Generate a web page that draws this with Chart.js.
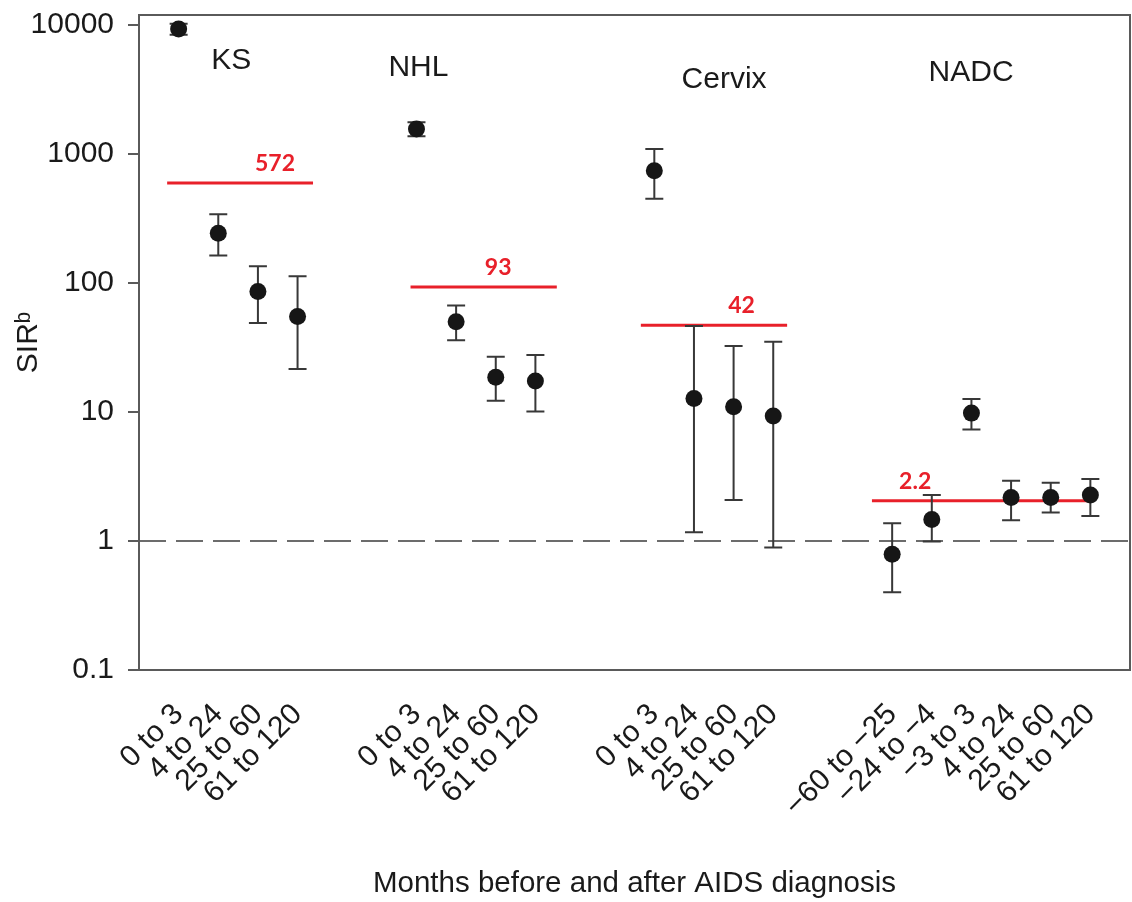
<!DOCTYPE html>
<html>
<head>
<meta charset="utf-8">
<script src="https://cdn.jsdelivr.net/npm/chart.js@4.4.1/dist/chart.umd.min.js"></script>
<style>
html,body{margin:0;padding:0;background:#ffffff;}
#wrap{position:relative;width:1132px;height:902px;}
</style>
</head>
<body>
<div id="wrap"><canvas id="c"></canvas></div>
<script>
// ---------------- data ----------------
const groupNames = ['KS', 'NHL', 'Cervix', 'NADC'];

const ksPeriods = ['0 to 3', '4 to 24', '25 to 60', '61 to 120'];
const ksSIR  = [9300, 243, 86, 55];
const ksLow  = [8400, 163, 49, 21.5];
const ksHigh = [10200, 341, 135, 113];

const nhlPeriods = ['0 to 3', '4 to 24', '25 to 60', '61 to 120'];
const nhlSIR  = [1560, 50, 18.6, 17.4];
const nhlLow  = [1370, 36, 12.2, 10.1];
const nhlHigh = [1760, 67, 26.8, 27.7];

const cervixPeriods = ['0 to 3', '4 to 24', '25 to 60', '61 to 120'];
const cervixSIR  = [740, 12.7, 11.0, 9.3];
const cervixLow  = [450, 1.17, 2.08, 0.89];
const cervixHigh = [1095, 46.5, 32.5, 35];

const nadcPeriods = ['\u221260 to \u221225', '\u221224 to \u22124', '\u22123 to 3', '4 to 24', '25 to 60', '61 to 120'];
const nadcSIR  = [0.79, 1.47, 9.8, 2.17, 2.17, 2.27];
const nadcLow  = [0.40, 0.99, 7.3, 1.45, 1.66, 1.56];
const nadcHigh = [1.37, 2.27, 12.6, 2.93, 2.83, 3.02];

// pooled SIR per group (red lines) and their printed values
const pooledLevel = [595, 93, 47, 2.05];
const pooledText  = ['572', '93', '42', '2.2'];
// span of each red line, in category units relative to the group's first period
const pooledSpanFrom = [-0.29, -0.15, -0.34, -0.51];
const pooledSpanTo   = [3.39, 3.54, 3.35, 4.99];

const yTickValues = [0.1, 1, 10, 100, 1000, 10000];
const referenceSIR = 1;

const xTitle = 'Months before and after AIDS diagnosis';
const yTitle = 'SIR\u1D47';

// ---------------- build structures ----------------
const GAP = 2;
const groups = [
  {name: groupNames[0], periods: ksPeriods, sir: ksSIR, lo: ksLow, hi: ksHigh},
  {name: groupNames[1], periods: nhlPeriods, sir: nhlSIR, lo: nhlLow, hi: nhlHigh},
  {name: groupNames[2], periods: cervixPeriods, sir: cervixSIR, lo: cervixLow, hi: cervixHigh},
  {name: groupNames[3], periods: nadcPeriods, sir: nadcSIR, lo: nadcLow, hi: nadcHigh}
];
let slot = 0;
groups.forEach(g => { g.start = slot; slot += g.periods.length + GAP; });
const lastSlot = slot - GAP - 1;

const pointData = [];
const tickSlots = [];
const tickText = {};
groups.forEach(g => {
  g.periods.forEach((p, i) => {
    const s = g.start + i;
    pointData.push({x: s, y: g.sir[i], lo: g.lo[i], hi: g.hi[i]});
    tickSlots.push(s);
    tickText[s] = p;
  });
});

// annotation placement (layout only)
const groupLabelPlace = [
  {dx: 1.33, y: 5300},
  {dx: 0.05, y: 4650},
  {dx: 1.76, y: 3750},
  {dx: 1.99, y: 4300}
];
const pooledLabelDx = [2.43, 2.06, 2.20, 0.58];

const FONT = "'Liberation Sans', Arial, Helvetica, sans-serif";
const TEXT = '#1a1a1a';
const RED = '#e8202a';
const AXIS = '#5a5a5a';

const redDatasets = groups.map((g, k) => ({
  type: 'line',
  label: 'pooled ' + g.name,
  data: [
    {x: g.start + pooledSpanFrom[k], y: pooledLevel[k]},
    {x: g.start + pooledSpanTo[k], y: pooledLevel[k]}
  ],
  borderColor: RED,
  borderWidth: 3,
  pointRadius: 0,
  fill: false,
  order: 1
}));

const X_MIN = -1, X_MAX = lastSlot + 1;

const refDataset = {
  type: 'line',
  label: 'reference',
  data: [{x: X_MIN, y: referenceSIR}, {x: X_MAX, y: referenceSIR}],
  borderColor: '#3c3c3c',
  borderWidth: 1.6,
  borderDash: [27, 10],
  pointRadius: 0,
  fill: false,
  order: 3
};

const pointDataset = {
  type: 'scatter',
  label: 'SIR',
  data: pointData,
  pointRadius: 8.5,
  pointHoverRadius: 8.5,
  pointBackgroundColor: '#161616',
  pointBorderColor: '#161616',
  pointBorderWidth: 0,
  order: 0
};

const errorBarPlugin = {
  id: 'errorBars',
  beforeDatasetDraw(chart, args) {
    if (chart.data.datasets[args.index] !== pointDataset) return;
    const {ctx, scales: {x, y}} = chart;
    ctx.save();
    ctx.strokeStyle = '#383838';
    ctx.lineWidth = 2;
    const cap = 9;
    pointData.forEach(p => {
      const px = x.getPixelForValue(p.x);
      const yl = y.getPixelForValue(p.lo);
      const yh = y.getPixelForValue(p.hi);
      ctx.beginPath();
      ctx.moveTo(px, yl); ctx.lineTo(px, yh);
      ctx.moveTo(px - cap, yl); ctx.lineTo(px + cap, yl);
      ctx.moveTo(px - cap, yh); ctx.lineTo(px + cap, yh);
      ctx.stroke();
    });
    ctx.restore();
  }
};

const annotationPlugin = {
  id: 'annotations',
  afterDatasetsDraw(chart) {
    const {ctx, scales: {x, y}, chartArea} = chart;
    ctx.save();
    // frame
    ctx.strokeStyle = AXIS;
    ctx.lineWidth = 2;
    ctx.strokeRect(chartArea.left, chartArea.top, chartArea.right - chartArea.left, chartArea.bottom - chartArea.top);
    // group names
    ctx.fillStyle = TEXT;
    ctx.font = '30px ' + FONT;
    ctx.textAlign = 'center';
    ctx.textBaseline = 'middle';
    groups.forEach((g, k) => {
      ctx.fillText(g.name, x.getPixelForValue(g.start + groupLabelPlace[k].dx), y.getPixelForValue(groupLabelPlace[k].y));
    });
    // pooled values
    ctx.fillStyle = RED;
    ctx.font = "bold 23px Lato, 'Open Sans', sans-serif";
    ctx.textBaseline = 'alphabetic';
    groups.forEach((g, k) => {
      ctx.fillText(pooledText[k], x.getPixelForValue(g.start + pooledLabelDx[k]), y.getPixelForValue(pooledLevel[k]) - 12);
    });
    ctx.restore();
  }
};

new Chart(document.getElementById('c'), {
  data: {datasets: [pointDataset, ...redDatasets, refDataset]},
  options: {
    responsive: true,
    maintainAspectRatio: false,
    animation: false,
    layout: {autoPadding: false, padding: {top: 15, right: 2, bottom: 0, left: 0}},
    plugins: {legend: {display: false}, tooltip: {enabled: false}},
    scales: {
      x: {
        type: 'linear',
        min: X_MIN,
        max: X_MAX,
        afterBuildTicks: s => { s.ticks = tickSlots.map(v => ({value: v})); },
        afterFit: s => { s.height = 232; s.paddingLeft = 0; s.paddingRight = 0; },
        ticks: {
          autoSkip: false,
          minRotation: 45,
          maxRotation: 45,
          padding: 19,
          color: TEXT,
          font: {family: FONT, size: 30},
          callback: v => tickText[v] !== undefined ? tickText[v] : ''
        },
        grid: {display: false},
        border: {display: true, color: AXIS, width: 2},
        title: {display: true, text: xTitle, color: TEXT, font: {family: FONT, size: 29.5}, padding: {top: 0, bottom: 0}}
      },
      y: {
        type: 'logarithmic',
        min: 0.1,
        max: 11950,
        afterBuildTicks: s => { s.ticks = yTickValues.map(v => ({value: v})); },
        afterFit: s => { s.width = 139; s.paddingTop = 0; s.paddingBottom = 0; },
        ticks: {
          autoSkip: false,
          padding: 14,
          color: TEXT,
          font: {family: FONT, size: 30},
          callback: v => (v < 1 ? String(v) : String(Math.round(v)))
        },
        grid: {display: true, drawOnChartArea: false, drawTicks: true, tickLength: 11, color: AXIS, lineWidth: 2},
        border: {display: true, color: AXIS, width: 2},
        title: {display: true, text: yTitle, color: TEXT, font: {family: FONT, size: 30}, padding: {top: 11, bottom: 0}}
      }
    }
  },
  plugins: [errorBarPlugin, annotationPlugin]
});
</script>
</body>
</html>
